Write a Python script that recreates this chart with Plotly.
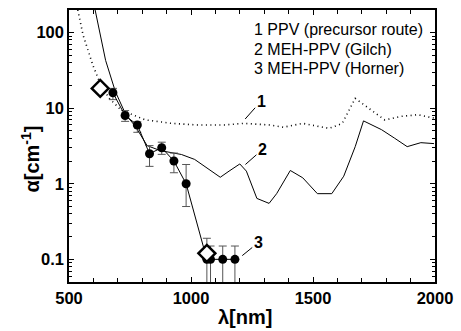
import math
import plotly.graph_objects as go

# Curve 1: PPV (precursor route), dotted
c1_x = [536, 558, 598, 631, 665, 706, 760, 814, 860, 920, 1028, 1136, 1216, 1324, 1378, 1458, 1566, 1620, 1673, 1727, 1794, 1861, 1929, 1996]
c1_y = [200, 92, 37, 20, 13.5, 10, 8.2, 7.0, 6.7, 6.3, 6.0, 6.0, 6.3, 6.0, 5.6, 6.3, 5.4, 6.3, 13.5, 10, 7.0, 7.8, 8.2, 7.4]

# Curve 2: MEH-PPV (Gilch), solid
c2_x = [607, 650, 690, 733, 773, 820, 874, 961, 1015, 1082, 1120, 1156, 1200, 1227, 1270, 1320, 1351, 1407, 1458, 1518, 1577, 1626, 1673, 1707, 1781, 1835, 1886, 1942, 1996]
c2_y = [200, 43, 16.6, 8.2, 5.7, 3.2, 2.75, 2.44, 2.1, 1.47, 1.22, 1.47, 1.83, 1.47, 0.64, 0.55, 0.74, 1.5, 1.2, 0.74, 0.74, 1.26, 3.1, 6.8, 5.2, 4.0, 3.1, 3.5, 3.4]

# Series 3: MEH-PPV (Horner), points with error bars
p3_x = [680, 730, 780, 830, 880, 930, 980, 1065, 1080, 1130, 1180]
p3_y = [16, 8, 6, 2.5, 3, 2, 1, 0.1, 0.1, 0.1, 0.1]
p3_err_plus = [2.3, 1.3, 0.6, 0.7, 0.55, 0.55, 0.8, 0.09, 0.05, 0.05, 0.05]
p3_err_minus = [3, 1.3, 1.2, 0.8, 0.55, 0.6, 0.5, 0.0999, 0.0999, 0.0999, 0.0999]

# Open diamonds
d_x = [628, 1065]
d_y = [18.3, 0.12]

legend_lines = ["1 PPV (precursor route)", "2 MEH-PPV (Gilch)", "3 MEH-PPV (Horner)"]

FONT = "Liberation Sans, Arial, sans-serif"
L, R, T, B = 69, 20, 8, 49
PW, PH = 461 - L - R, 331 - T - B


def px(xp):
    return (xp - L) / PW


def py(yp):
    return 1 - (yp - T) / PH


fig = go.Figure()
fig.add_trace(go.Scatter(x=c1_x, y=c1_y, mode="lines",
                         line=dict(color="black", width=1.6, dash="1px,3.5px"), showlegend=False))
fig.add_trace(go.Scatter(x=c2_x, y=c2_y, mode="lines",
                         line=dict(color="black", width=1), showlegend=False))
fig.add_trace(go.Scatter(x=p3_x, y=p3_y, mode="lines+markers",
                         line=dict(color="black", width=1),
                         marker=dict(color="black", size=9),
                         error_y=dict(type="data", symmetric=False, array=p3_err_plus,
                                      arrayminus=p3_err_minus, color="#555555",
                                      thickness=1, width=4),
                         showlegend=False))
fig.add_trace(go.Scatter(x=d_x, y=d_y, mode="markers",
                         marker=dict(symbol="diamond", size=13, color="white",
                                     line=dict(color="black", width=2.5)),
                         showlegend=False))

annotations = []
for i, t in enumerate(legend_lines):
    annotations.append(dict(text=t, xref="paper", yref="paper", x=px(255),
                            y=py(28 + 19.5 * i), xanchor="left", yanchor="middle",
                            showarrow=False, font=dict(family=FONT, size=16, color="black")))

for lab, x, y, ax, ay in [("1", 1222, 7.2, 16, -18), ("2", 1223, 1.8, 17, -15), ("3", 1210, 0.112, 16, -13)]:
    annotations.append(dict(text="<b>" + lab + "</b>", x=x, y=math.log10(y),
                            xref="x", yref="y", showarrow=True, arrowhead=0, arrowwidth=1,
                            arrowcolor="black", ax=ax, ay=ay,
                            font=dict(family=FONT, size=16, color="black")))

annotations.append(dict(text="<b>α[cm<sup>-1</sup>]</b>", xref="paper", yref="paper",
                        x=px(30), y=py(158), textangle=-90, showarrow=False,
                        xanchor="center", yanchor="middle",
                        font=dict(family=FONT, size=20, color="black")))
annotations.append(dict(text="<b>λ[nm]</b>", xref="paper", yref="paper",
                        x=px(248), y=py(317), showarrow=False,
                        xanchor="center", yanchor="middle",
                        font=dict(family=FONT, size=20, color="black")))

fig.update_layout(
    width=461, height=331,
    margin=dict(l=L, r=R, t=T, b=B),
    plot_bgcolor="white", paper_bgcolor="white",
    font=dict(family=FONT, color="black"),
    annotations=annotations,
)
fig.update_xaxes(range=[500, 2000], tickvals=[500, 1000, 1500, 2000],
                 ticks="inside", ticklen=5, tickwidth=1, tickcolor="black",
                 minor=dict(dtick=100, ticks="inside", ticklen=4, tickcolor="black"),
                 showline=True, linecolor="black", linewidth=1.5, mirror="ticks",
                 showgrid=False, zeroline=False,
                 tickfont=dict(family=FONT, size=16.5, weight="bold"))
minor_vals = [m * 10 ** e for e in range(-2, 3) for m in range(2, 10)]
fig.update_yaxes(type="log", range=[-1.3, 2.3], tickvals=[0.1, 1, 10, 100],
                 ticktext=["0.1", "1", "10", "100"],
                 ticks="inside", ticklen=5, tickwidth=1, tickcolor="black",
                 minor=dict(tickvals=minor_vals, ticks="inside", ticklen=3, tickcolor="black"),
                 showline=True, linecolor="black", linewidth=1.5, mirror="ticks",
                 showgrid=False, zeroline=False,
                 tickfont=dict(family=FONT, size=16.5, weight="bold"))

fig.write_html("out.html")
